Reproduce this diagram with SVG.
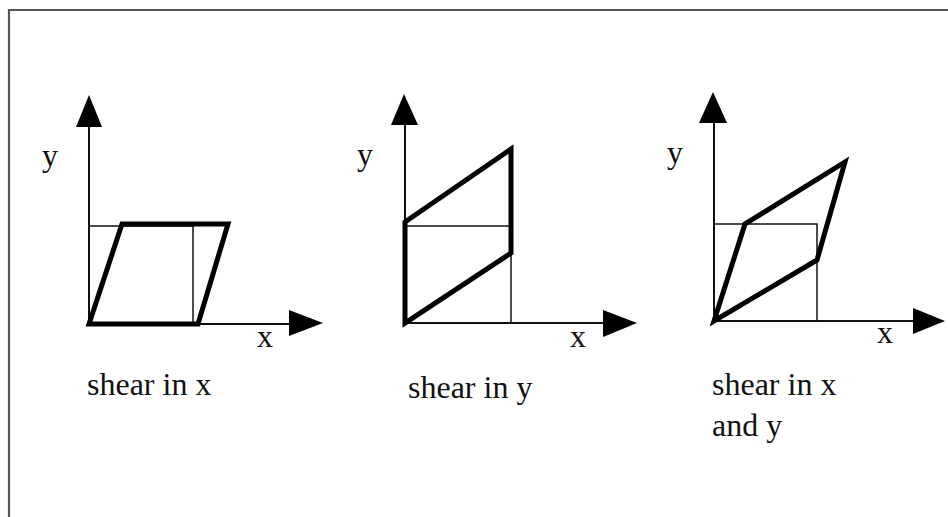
<svg xmlns="http://www.w3.org/2000/svg" width="948" height="517" viewBox="0 0 948 517">
<style>
.frame{fill:none;stroke:#555;stroke-width:2.2}
.axis{fill:none;stroke:#111;stroke-width:2}
.sq{fill:none;stroke:#111;stroke-width:1.5}
.thick{fill:none;stroke:#000;stroke-width:5;stroke-linejoin:miter}
.head{fill:#000}
text{font-family:"Liberation Serif","Times New Roman",serif;font-size:32px;fill:#111}
</style>
<rect width="948" height="517" fill="#fff"/>
<path class="frame" d="M9,517 V10 H948"/>
<g id="connectors">
<line class="axis" x1="89" y1="324" x2="89" y2="124"/>
<polygon class="head" points="89,95 76,127 102,127"/>
<line class="axis" x1="89" y1="324" x2="292" y2="324"/>
<polygon class="head" points="323,323 289,310 289,336"/>
<line class="axis" x1="405" y1="323" x2="405" y2="122"/>
<polygon class="head" points="404,94 391,125 418,125"/>
<line class="axis" x1="405" y1="323" x2="606" y2="323"/>
<polygon class="head" points="637,323 603,310 603,337"/>
<line class="axis" x1="714" y1="321" x2="714" y2="120"/>
<polygon class="head" points="713,92 699,123 727,123"/>
<line class="axis" x1="714" y1="321" x2="916" y2="321"/>
<polygon class="head" points="945,321 913,308 913,334"/>
</g>
<g id="shear-x">
<rect class="sq" x="89" y="226" width="104" height="98"/>
<polygon class="thick" points="89,324 122,224 228,224 198,324"/>
<text x="42" y="166">y</text>
<text x="257" y="347">x</text>
<text x="87" y="395">shear in x</text>
</g>
<g id="shear-y">
<rect class="sq" x="405" y="226" width="106" height="97"/>
<polygon class="thick" points="405,323 405,222 511,149 511,253"/>
<text x="357" y="165">y</text>
<text x="570" y="347">x</text>
<text x="408" y="398">shear in y</text>
</g>
<g id="shear-xy">
<rect class="sq" x="714" y="224" width="103" height="97"/>
<polygon class="thick" points="714,321 745,224 845,162 817,260"/>
<text x="667" y="163">y</text>
<text x="877" y="343">x</text>
<text x="712" y="395">shear in x</text>
<text x="712" y="436">and y</text>
</g>
</svg>
